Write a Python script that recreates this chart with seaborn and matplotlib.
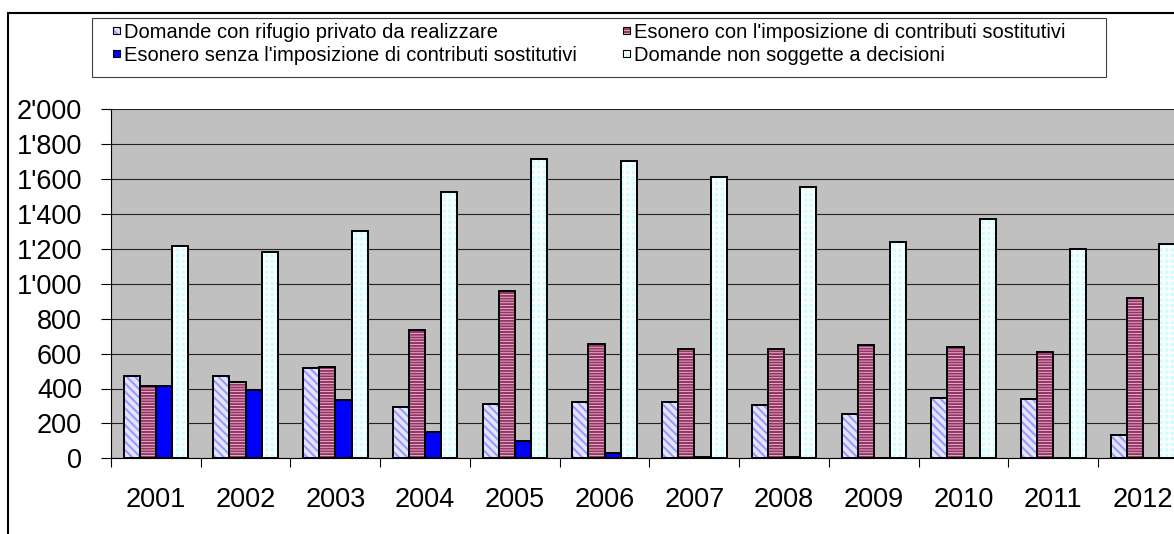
import numpy as np
import pandas as pd
import matplotlib
matplotlib.use("Agg")
import matplotlib.pyplot as plt
import seaborn as sns
from matplotlib.patches import Rectangle, Patch
from matplotlib.legend_handler import HandlerBase
from matplotlib.ticker import FuncFormatter

plt.rcParams['font.family'] = ['Liberation Sans', 'DejaVu Sans']
plt.rcParams['hatch.linewidth'] = 1.5

anni = ["2001", "2002", "2003", "2004", "2005", "2006",
        "2007", "2008", "2009", "2010", "2011", "2012"]
serie = ["Domande con rifugio privato da realizzare",
         "Esonero con l'imposizione di contributi sostitutivi",
         "Esonero senza l'imposizione di contributi sostitutivi",
         "Domande non soggette a decisioni"]
rifugio_privato = [474, 474, 516, 293, 311, 323, 323, 304, 253, 345, 337, 133]
esonero_con = [413, 436, 526, 737, 959, 655, 627, 627, 650, 640, 607, 920]
esonero_senza = [413, 394, 335, 153, 101, 32, 5, 5, 4, 4, 4, 4]
non_soggette = [1219, 1181, 1303, 1524, 1715, 1705, 1612, 1553, 1242, 1371, 1200, 1230]

# stile per serie: (colore fondo, hatch, colore hatch)
stili = [("#E4E4FF", "\\\\\\\\", "#9999FF"),
         ("#F2E2EA", "------", "#993366"),
         ("#0000FF", "", "#0000FF"),
         ("#CCFFFF", "+++", "white")]

df = pd.DataFrame({
    "anno": anni * 4,
    "serie": np.repeat(serie, len(anni)),
    "valore": rifugio_privato + esonero_con + esonero_senza + non_soggette,
})

W, H = 1174, 534
fig = plt.figure(figsize=(W / 100, H / 100), dpi=100)
ax = fig.add_axes([111 / W, 1 - 458.3 / H, 1077 / W, 349 / H])

sns.barplot(data=df, x="anno", y="valore", hue="serie", hue_order=serie,
            palette=[s[0] for s in stili], saturation=1,
            width=0.72, legend=False, ax=ax)

for cont, (fc, hatch, hc) in zip(ax.containers, stili):
    for bar in cont:
        bar.set_facecolor(fc)
        bar.set_hatch(hatch)
        bar.set_edgecolor(hc)
        bar.set_linewidth(0)
        ax.add_patch(Rectangle((bar.get_x(), bar.get_y()), bar.get_width(), bar.get_height(),
                               fill=False, edgecolor="black", lw=1.4, zorder=3))

ax.set_facecolor("#C0C0C0")
ax.set_axisbelow(True)
ax.set_xlim(-0.5, len(anni) - 0.5)
ax.set_ylim(0, 2000)
ax.set_yticks(np.arange(0, 2001, 200))
ax.yaxis.set_major_formatter(FuncFormatter(lambda v, p: f"{v:,.0f}".replace(",", "'")))
ax.yaxis.grid(True, color="#222222", lw=0.8)
ax.xaxis.grid(False)
ax.set_xlabel("")
ax.set_ylabel("")
ax.set_xticks(np.arange(-0.5, len(anni), 1), minor=True)
ax.tick_params(axis="x", which="major", length=0, pad=21, labelsize=19.5)
ax.tick_params(axis="x", which="minor", length=6.5, width=0.8, direction="out")
ax.tick_params(axis="y", length=7.2, width=0.8, direction="out", pad=13.5, labelsize=19.5)
for s in ["top", "right"]:
    ax.spines[s].set_visible(False)
for s in ["left", "bottom"]:
    ax.spines[s].set_color("black")
    ax.spines[s].set_linewidth(0.8)


class SmallSquare(HandlerBase):
    def create_artists(self, legend, orig_handle, xdescent, ydescent, width, height, fontsize, trans):
        s = 0.35 * fontsize
        x0 = -xdescent + width - s
        y0 = -ydescent + (height - s) / 2
        fill = Rectangle((x0, y0), s, s, facecolor=orig_handle.get_facecolor(),
                         edgecolor=orig_handle.get_edgecolor(), hatch=orig_handle.get_hatch(),
                         lw=0, transform=trans)
        edge = Rectangle((x0, y0), s, s, fill=False, edgecolor="black", lw=0.8, transform=trans)
        return [fill, edge]


handles = [Patch(facecolor=fc, hatch=h, edgecolor=hc) for fc, h, hc in stili]
order = [0, 2, 1, 3]
fig.legend([handles[i] for i in order], [serie[i] for i in order],
           loc="upper left", bbox_to_anchor=(113 / W, 1 - 22.5 / H), ncol=2,
           frameon=False, borderpad=0, borderaxespad=0, fontsize=14.5,
           handlelength=0.35, handleheight=0.7, handletextpad=0.2,
           columnspacing=2.3, labelspacing=0.2,
           handler_map={Patch: SmallSquare()})

# riquadro legenda e cornice del grafico
fig.patches.append(Rectangle((92 / W, 1 - 76.7 / H), 1014 / W, 58.7 / H, fill=False,
                             edgecolor="#404040", lw=0.8, transform=fig.transFigure))
fig.patches.append(Rectangle((8 / W, -0.5), 2, 0.5 + 1 - 12.5 / H, fill=False,
                             edgecolor="black", lw=1.5, transform=fig.transFigure))

fig.savefig("out.png", dpi=100)
